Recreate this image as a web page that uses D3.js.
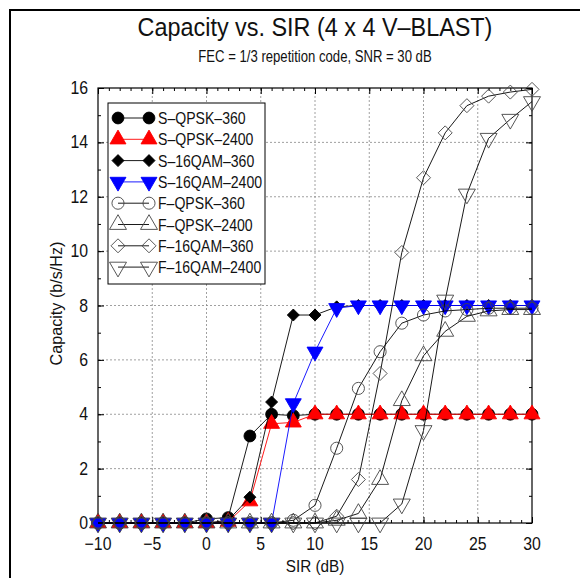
<!DOCTYPE html>
<html>
<head>
<meta charset="utf-8">
<script src="https://cdn.jsdelivr.net/npm/d3@7"></script>
<style>
  body { margin: 0; background: #fff; }
  text { font-family: "Liberation Sans", Arial, sans-serif; fill: #111; }
</style>
</head>
<body>
<svg id="chart" width="580" height="578"></svg>
<script>
// SIR values (dB)
let sir = [-10, -8, -6, -4, -2, 0, 2, 4, 6, 8, 10, 12, 14, 16, 18, 20, 22, 24, 26, 28, 30];

let sQpsk360   = [0, 0, 0, 0, 0, 0.15, 0.2, 3.2, 4.0, 3.95, 4, 4, 4, 4, 4, 4, 4, 4, 4, 4, 4];
let sQpsk2400  = [0, 0, 0, 0, 0, 0, 0.05, 0.8, 3.65, 3.7, 4, 4, 4, 4, 4, 4, 4, 4, 4, 4, 4];
let s16Qam360  = [0, 0, 0, 0, 0, 0, 0.1, 0.95, 4.45, 7.65, 7.65, 7.95, 8, 8, 8, 8, 8, 8, 8, 8, 8];
let s16Qam2400 = [0, 0, 0, 0, 0, 0, 0, 0, 0, 4.4, 6.3, 7.9, 8, 8, 8, 8, 8, 8, 8, 8, 8];
let fQpsk360   = [0, 0, 0, 0, 0, 0, 0, 0, 0, 0.1, 0.65, 2.75, 4.95, 6.3, 7.35, 7.65, 7.8, 7.85, 7.9, 7.9, 7.9];
let fQpsk2400  = [0, 0, 0, 0, 0, 0, 0, 0, 0, 0, 0, 0.1, 0.35, 1.6, 4.5, 6.15, 7.05, 7.6, 7.8, 7.85, 7.85];
let f16Qam360  = [0, 0, 0, 0, 0, 0, 0, 0, 0, 0, 0, 0.25, 1.6, 5.5, 9.95, 12.7, 14.35, 15.35, 15.7, 15.85, 15.95];
let f16Qam2400 = [0, 0, 0, 0, 0, 0, 0, 0, 0, 0, 0, 0, 0, 0, 0.7, 3.4, 8.2, 12.1, 14.15, 14.85, 15.5];

let seriesNames = ["S\u2013QPSK\u2013360", "S\u2013QPSK\u20132400", "S\u201316QAM\u2013360", "S\u201316QAM\u20132400",
                   "F\u2013QPSK\u2013360", "F\u2013QPSK\u20132400", "F\u201316QAM\u2013360", "F\u201316QAM\u20132400"];
let seriesValues = [sQpsk360, sQpsk2400, s16Qam360, s16Qam2400, fQpsk360, fQpsk2400, f16Qam360, f16Qam2400];

let xTicks = [-10, -5, 0, 5, 10, 15, 20, 25, 30];
let yTicks = [0, 2, 4, 6, 8, 10, 12, 14, 16];

let titleText = "Capacity vs. SIR (4 x 4 V\u2013BLAST)";
let subtitleText = "FEC = 1/3 repetition code, SNR = 30 dB";

// marker styles per series
let styles = [
  {shape: "circle",   fill: "#000", stroke: "#000", line: "#000", size: 110},
  {shape: "triangle", fill: "#f00", stroke: "#f00", line: "#f00", size: 110},
  {shape: "diamond",  fill: "#000", stroke: "#000", line: "#000", size: 6},
  {shape: "down",     fill: "#00f", stroke: "#00f", line: "#00f", size: 110},
  {shape: "circle",   fill: "none", stroke: "#444", line: "#000", size: 115},
  {shape: "triangle", fill: "none", stroke: "#444", line: "#000", size: 125},
  {shape: "diamond",  fill: "none", stroke: "#444", line: "#000", size: 7},
  {shape: "down",     fill: "none", stroke: "#444", line: "#000", size: 125}
];

let margin = {top: 88, right: 48, bottom: 55, left: 98};
let width = 580 - margin.left - margin.right;
let height = 578 - margin.top - margin.bottom;

let svg = d3.select("#chart");

// outer frame (left and top edges of the figure)
svg.append("path")
  .attr("d", "M10,578 L10,10 L580,10")
  .attr("fill", "none")
  .attr("stroke", "#000")
  .attr("stroke-width", 2);

let g = svg.append("g").attr("transform", `translate(${margin.left},${margin.top})`);

let x = d3.scaleLinear().domain([-10, 30]).range([0, width]);
let y = d3.scaleLinear().domain([0, 16]).range([height, 0]);

// narrow helvetica look
function label(sel, txt, px, py, size, anchor, sx) {
  return sel.append("text")
    .attr("transform", `translate(${px},${py}) scale(${sx},1)`)
    .attr("text-anchor", anchor)
    .style("font-size", size + "px")
    .text(txt);
}

// grid
g.append("g").selectAll("line").data(xTicks.slice(1, -1)).enter().append("line")
  .attr("x1", d => x(d)).attr("x2", d => x(d))
  .attr("y1", 0).attr("y2", height)
  .attr("stroke", "#888").attr("stroke-width", 0.8).attr("stroke-dasharray", "2,2");
g.append("g").selectAll("line").data(yTicks.slice(1, -1)).enter().append("line")
  .attr("x1", 0).attr("x2", width)
  .attr("y1", d => y(d)).attr("y2", d => y(d))
  .attr("stroke", "#888").attr("stroke-width", 0.8).attr("stroke-dasharray", "2,2");

// axes with inward ticks on all four sides
let xMinor = d3.range(-10, 31, 1);
let yMinor = d3.range(0, 17, 1);

function tickAxis(axisFn, scale, vals, len) {
  return axisFn(scale).tickValues(vals).tickSizeInner(-len).tickSizeOuter(0).tickFormat("");
}
g.append("g").attr("transform", `translate(0,${height})`).call(tickAxis(d3.axisBottom, x, xMinor, 3));
g.append("g").attr("transform", `translate(0,${height})`).call(tickAxis(d3.axisBottom, x, xTicks, 6));
g.append("g").call(tickAxis(d3.axisTop, x, xMinor, 3));
g.append("g").call(tickAxis(d3.axisTop, x, xTicks, 6));
g.append("g").call(tickAxis(d3.axisLeft, y, yMinor, 3));
g.append("g").call(tickAxis(d3.axisLeft, y, yTicks, 6));
g.append("g").attr("transform", `translate(${width},0)`).call(tickAxis(d3.axisRight, y, yMinor, 3));
g.append("g").attr("transform", `translate(${width},0)`).call(tickAxis(d3.axisRight, y, yTicks, 6));
g.selectAll(".domain").remove();
g.selectAll(".tick line").attr("stroke", "#000").attr("stroke-width", 1);

g.append("rect")
  .attr("width", width).attr("height", height)
  .attr("fill", "none").attr("stroke", "#000").attr("stroke-width", 1.2);

// tick labels
let fmt = d => d < 0 ? "\u2212" + Math.abs(d) : String(d);
xTicks.forEach(d => label(g, fmt(d), x(d), height + 27, 18, "middle", 0.88));
yTicks.forEach(d => label(g, fmt(d), -10, y(d) + 6, 18, "end", 0.88));

// axis titles
label(g, "SIR (dB)", width / 2, height + 49, 17, "middle", 0.9);
g.append("text")
  .attr("transform", `translate(-36,${height / 2 - 2}) rotate(-90) scale(0.95,1)`)
  .attr("text-anchor", "middle")
  .style("font-size", "17px")
  .text("Capacity (b/s/Hz)");

// titles
label(svg, titleText, margin.left + width / 2, 36, 26, "middle", 0.9);
label(svg, subtitleText, margin.left + width / 2, 62, 16, "middle", 0.82);

// marker generator
let diamond = {
  draw(ctx, r) {
    ctx.moveTo(0, -r); ctx.lineTo(r, 0); ctx.lineTo(0, r); ctx.lineTo(-r, 0); ctx.closePath();
  }
};
function markerPath(st) {
  if (st.shape === "circle") return d3.symbol().type(d3.symbolCircle).size(st.size)();
  if (st.shape === "diamond") return d3.symbol().type(diamond).size(st.size)();
  return d3.symbol().type(d3.symbolTriangle).size(st.size)();
}
function markerTransform(st, px, py) {
  let t = `translate(${px},${py})`;
  if (st.shape === "down") t += " rotate(180)";
  return t;
}

let line = d3.line().x(d => x(d[0])).y(d => y(d[1]));

seriesValues.forEach((vals, i) => {
  let st = styles[i];
  let pts = sir.map((s, j) => [s, vals[j]]);
  let sg = g.append("g");
  sg.append("path")
    .attr("d", line(pts))
    .attr("fill", "none")
    .attr("stroke", st.line)
    .attr("stroke-width", 0.9);
  sg.selectAll("path.mk").data(pts).enter().append("path")
    .attr("class", "mk")
    .attr("d", markerPath(st))
    .attr("transform", d => markerTransform(st, x(d[0]), y(d[1])))
    .attr("fill", st.fill)
    .attr("stroke", st.stroke)
    .attr("stroke-width", 0.9);
});

// legend
let lg = svg.append("g").attr("transform", "translate(108,103)");
lg.append("rect").attr("width", 157).attr("height", 181)
  .attr("fill", "#fff").attr("stroke", "#000").attr("stroke-width", 1);
seriesNames.forEach((name, i) => {
  let st = styles[i];
  let ly = 15 + i * 21.3;
  lg.append("line").attr("x1", 10).attr("x2", 41).attr("y1", ly).attr("y2", ly)
    .attr("stroke", st.line).attr("stroke-width", 0.9);
  [10, 41].forEach(lx => {
    lg.append("path")
      .attr("d", markerPath(st))
      .attr("transform", markerTransform(st, lx, ly))
      .attr("fill", st.fill)
      .attr("stroke", st.stroke)
      .attr("stroke-width", 0.9);
  });
  label(lg, name, 50, ly + 6, 16, "start", 0.88);
});
</script>
</body>
</html>
